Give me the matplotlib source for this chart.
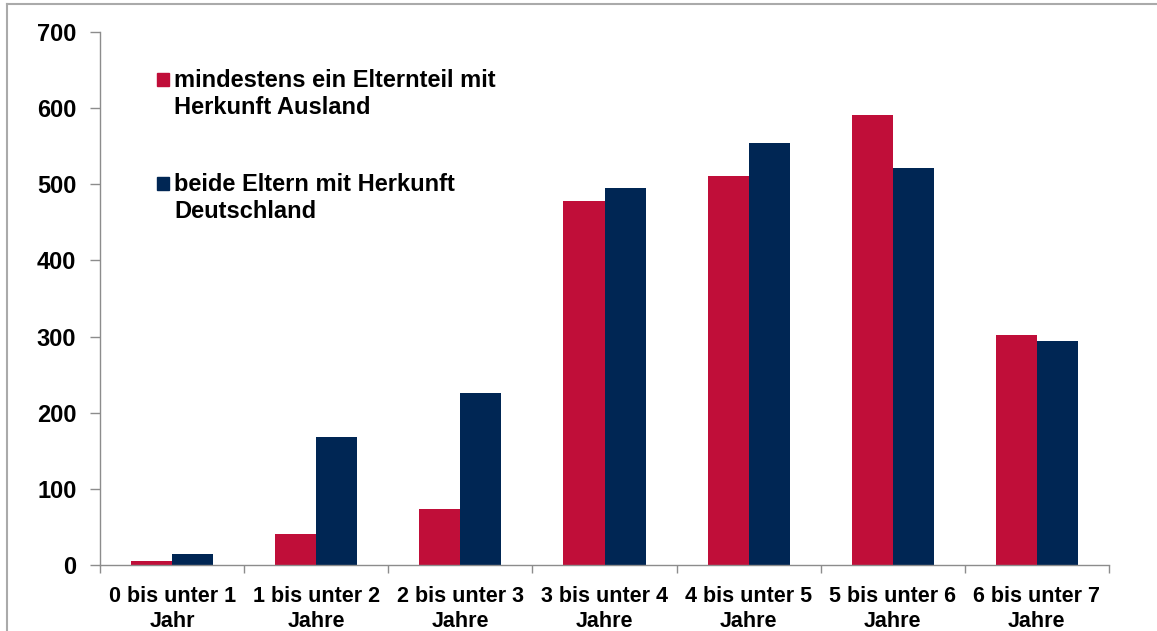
import numpy as np
import matplotlib
matplotlib.use('Agg')
import matplotlib.pyplot as plt
from matplotlib.patches import Rectangle
from matplotlib.lines import Line2D

plt.rcParams['font.family'] = ['Liberation Sans', 'DejaVu Sans']
plt.rcParams['font.weight'] = 'bold'

# Data
categories = ['0 bis unter 1\nJahr', '1 bis unter 2\nJahre', '2 bis unter 3\nJahre',
              '3 bis unter 4\nJahre', '4 bis unter 5\nJahre', '5 bis unter 6\nJahre',
              '6 bis unter 7\nJahre']
ausland = [5, 41, 74, 478, 511, 591, 302]
deutschland = [14, 168, 226, 495, 554, 522, 294]
series_labels = ['mindestens ein Elternteil mit\nHerkunft Ausland',
                 'beide Eltern mit Herkunft\nDeutschland']
yticks = [0, 100, 200, 300, 400, 500, 600, 700]

RED = '#C00E39'
NAVY = '#002654'
AXIS_GRAY = '#8C8C8C'

W, H = 1157, 631
fig = plt.figure(figsize=(W / 100, H / 100), dpi=100)

def fx(x):
    return x / W

def fy(y):
    return 1 - y / H

ax = fig.add_axes([fx(100), fy(565), fx(1109) - fx(100), fy(32) - fy(565)])

x = np.arange(len(categories))
w = 0.285
ax.bar(x - w / 2, ausland, width=w, color=RED)
ax.bar(x + w / 2, deutschland, width=w, color=NAVY)

ax.set_xlim(-0.5, len(categories) - 0.5)
ax.set_ylim(0, 700)
ax.set_yticks(yticks)
ax.set_yticklabels([str(v) for v in yticks], fontsize=17, fontweight='bold')

# category boundaries get tick marks, labels sit at the centres
ax.set_xticks(np.arange(-0.5, len(categories), 1.0))
ax.set_xticklabels([])
ax.set_xticks(x, minor=True)
ax.set_xticklabels(categories, minor=True, fontsize=15.5, fontweight='bold', linespacing=1.25)
ax.tick_params(axis='x', which='minor', length=0, pad=15)
ax.tick_params(axis='x', which='major', length=6, color=AXIS_GRAY, width=1)
ax.tick_params(axis='y', length=7, color=AXIS_GRAY, width=1, pad=10)

for side in ['top', 'right']:
    ax.spines[side].set_visible(False)
for side in ['left', 'bottom']:
    ax.spines[side].set_color(AXIS_GRAY)
    ax.spines[side].set_linewidth(1)

# legend, drawn by hand so the square lines up with the first text line
leg_colors = [RED, NAVY]
leg_y = [79, 183]
for lab, col, yy in zip(series_labels, leg_colors, leg_y):
    fig.add_artist(Rectangle((fx(157), fy(yy + 6.5)), fx(12), fy(0) - fy(13),
                             transform=fig.transFigure, color=col))
    fig.text(fx(174.5), fy(yy - 10), lab, fontsize=17, fontweight='bold',
             va='top', ha='left', linespacing=1.24, transform=fig.transFigure)

# outer frame (left and top edges visible)
fig.add_artist(Line2D([fx(7), fx(7)], [0, fy(4)], transform=fig.transFigure,
                      color='#AAAAAA', linewidth=1.5))
fig.add_artist(Line2D([fx(7), 1], [fy(4), fy(4)], transform=fig.transFigure,
                      color='#AAAAAA', linewidth=1.5))

fig.savefig('out.png', dpi=100)
